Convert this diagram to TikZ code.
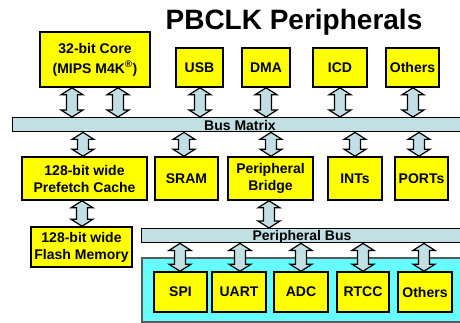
\documentclass[tikz,border=0pt]{standalone}
\usepackage{fontspec}
\setmainfont{Liberation Sans}
\usetikzlibrary{calc}
\definecolor{yel}{HTML}{FFFF00}
\definecolor{barblue}{HTML}{C2E0E4}
\definecolor{cyanbg}{HTML}{66FFFF}
\tikzset{
  box/.style={draw=black, line width=1.6pt, fill=yel, font=\bfseries\fontsize{14}{17}\selectfont, align=center, inner sep=0pt},
  bar/.style={draw=black, line width=1.4pt, fill=barblue, inner sep=0pt, anchor=north west},
  barlabel/.style={font=\bfseries\fontsize{14}{15}\selectfont, anchor=base, inner sep=0pt},
  blockarrow/.style={draw=black, line width=1.2pt, fill=barblue, line join=miter},
}
\newcommand\dblarrow[3]{%
  \path[blockarrow] let \p1=(#2), \p2=(#3) in
    (#1pt,\y1) -- (#1pt+11pt,\y1-7pt) -- (#1pt+5.5pt,\y1-7pt) -- (#1pt+5.5pt,\y2+7pt)
    -- (#1pt+11pt,\y2+7pt) -- (#1pt,\y2) -- (#1pt-11pt,\y2+7pt) -- (#1pt-5.5pt,\y2+7pt)
    -- (#1pt-5.5pt,\y1-7pt) -- (#1pt-11pt,\y1-7pt) -- cycle;}
\begin{document}
\begin{tikzpicture}[x=1pt,y=-1pt]
\useasboundingbox (0,0) rectangle (460,323);
\clip (0,0) rectangle (460,323);
\fill[white] (0,0) rectangle (460,323);

% title
\node[font=\bfseries\fontsize{28}{30}\selectfont, anchor=base, inner sep=0pt] (title) at (294,30) {PBCLK Peripherals};

% top row
\node[box, minimum width=110, minimum height=55, font=\bfseries\fontsize{14}{20}\selectfont] (core) at (95,59.5) {32-bit Core\\(MIPS M4K\textsuperscript{®})};
\node[box, minimum width=47, minimum height=39] (usb) at (199.5,67.5) {USB};
\node[box, minimum width=48, minimum height=39] (dma) at (266,67.5) {DMA};
\node[box, minimum width=54, minimum height=39] (icd) at (340,67.5) {ICD};
\node[box, minimum width=53, minimum height=39] (oth1) at (412.5,67.5) {Others};

% bus matrix
\node[bar, minimum width=460, minimum height=14] (bm) at (12,117) {};
\node[barlabel] (bml) at (240,130.5) {Bus Matrix};

% second row
\node[box, minimum width=125, minimum height=43] (pfc) at (84.5,178.5) {128-bit wide\\Prefetch Cache};
\node[box, minimum width=63, minimum height=43] (sram) at (186.5,178.5) {SRAM};
\node[box, minimum width=85, minimum height=43] (pbr) at (270.5,178.5) {Peripheral\\Bridge};
\node[box, minimum width=54, minimum height=43] (ints) at (355,178.5) {INTs};
\node[box, minimum width=53, minimum height=43] (ports) at (421.5,178.5) {PORTs};

% flash
\node[box, minimum width=101, minimum height=40] (flash) at (81.5,247) {128-bit wide\\Flash Memory};

% peripheral bus
\node[bar, minimum width=330, minimum height=14] (pb) at (141,228) {};
\node[barlabel] (pbl) at (302,240.5) {Peripheral Bus};

% cyan area
\node[draw=gray!70!black, line width=1.5pt, fill=cyanbg, minimum width=330, minimum height=64, anchor=north west, inner sep=0pt] (area) at (141,257) {};

% bottom row
\node[box, minimum width=53, minimum height=40] (spi) at (180.5,292) {SPI};
\node[box, minimum width=54, minimum height=40] (uart) at (239,292) {UART};
\node[box, minimum width=54, minimum height=40] (adc) at (301,292) {ADC};
\node[box, minimum width=52, minimum height=40] (rtcc) at (363,292) {RTCC};
\node[box, minimum width=54, minimum height=40] (oth2) at (425,292) {Others};

% arrows top row to bus matrix
\dblarrow{72}{core.south}{bm.north}
\dblarrow{118}{core.south}{bm.north}
\dblarrow{200}{usb.south}{bm.north}
\dblarrow{266}{dma.south}{bm.north}
\dblarrow{340}{icd.south}{bm.north}
\dblarrow{413}{oth1.south}{bm.north}

% bus matrix to second row
\dblarrow{83}{bm.south}{pfc.north}
\dblarrow{184}{bm.south}{sram.north}
\dblarrow{271}{bm.south}{pbr.north}
\dblarrow{355}{bm.south}{ints.north}
\dblarrow{419}{bm.south}{ports.north}

% prefetch to flash, bridge to peripheral bus
\dblarrow{82}{pfc.south}{flash.north}
\dblarrow{269}{pbr.south}{pb.north}

% peripheral bus to bottom row
\dblarrow{180}{pb.south}{spi.north}
\dblarrow{240}{pb.south}{uart.north}
\dblarrow{301}{pb.south}{adc.north}
\dblarrow{363}{pb.south}{rtcc.north}
\dblarrow{424}{pb.south}{oth2.north}
\end{tikzpicture}
\end{document}
